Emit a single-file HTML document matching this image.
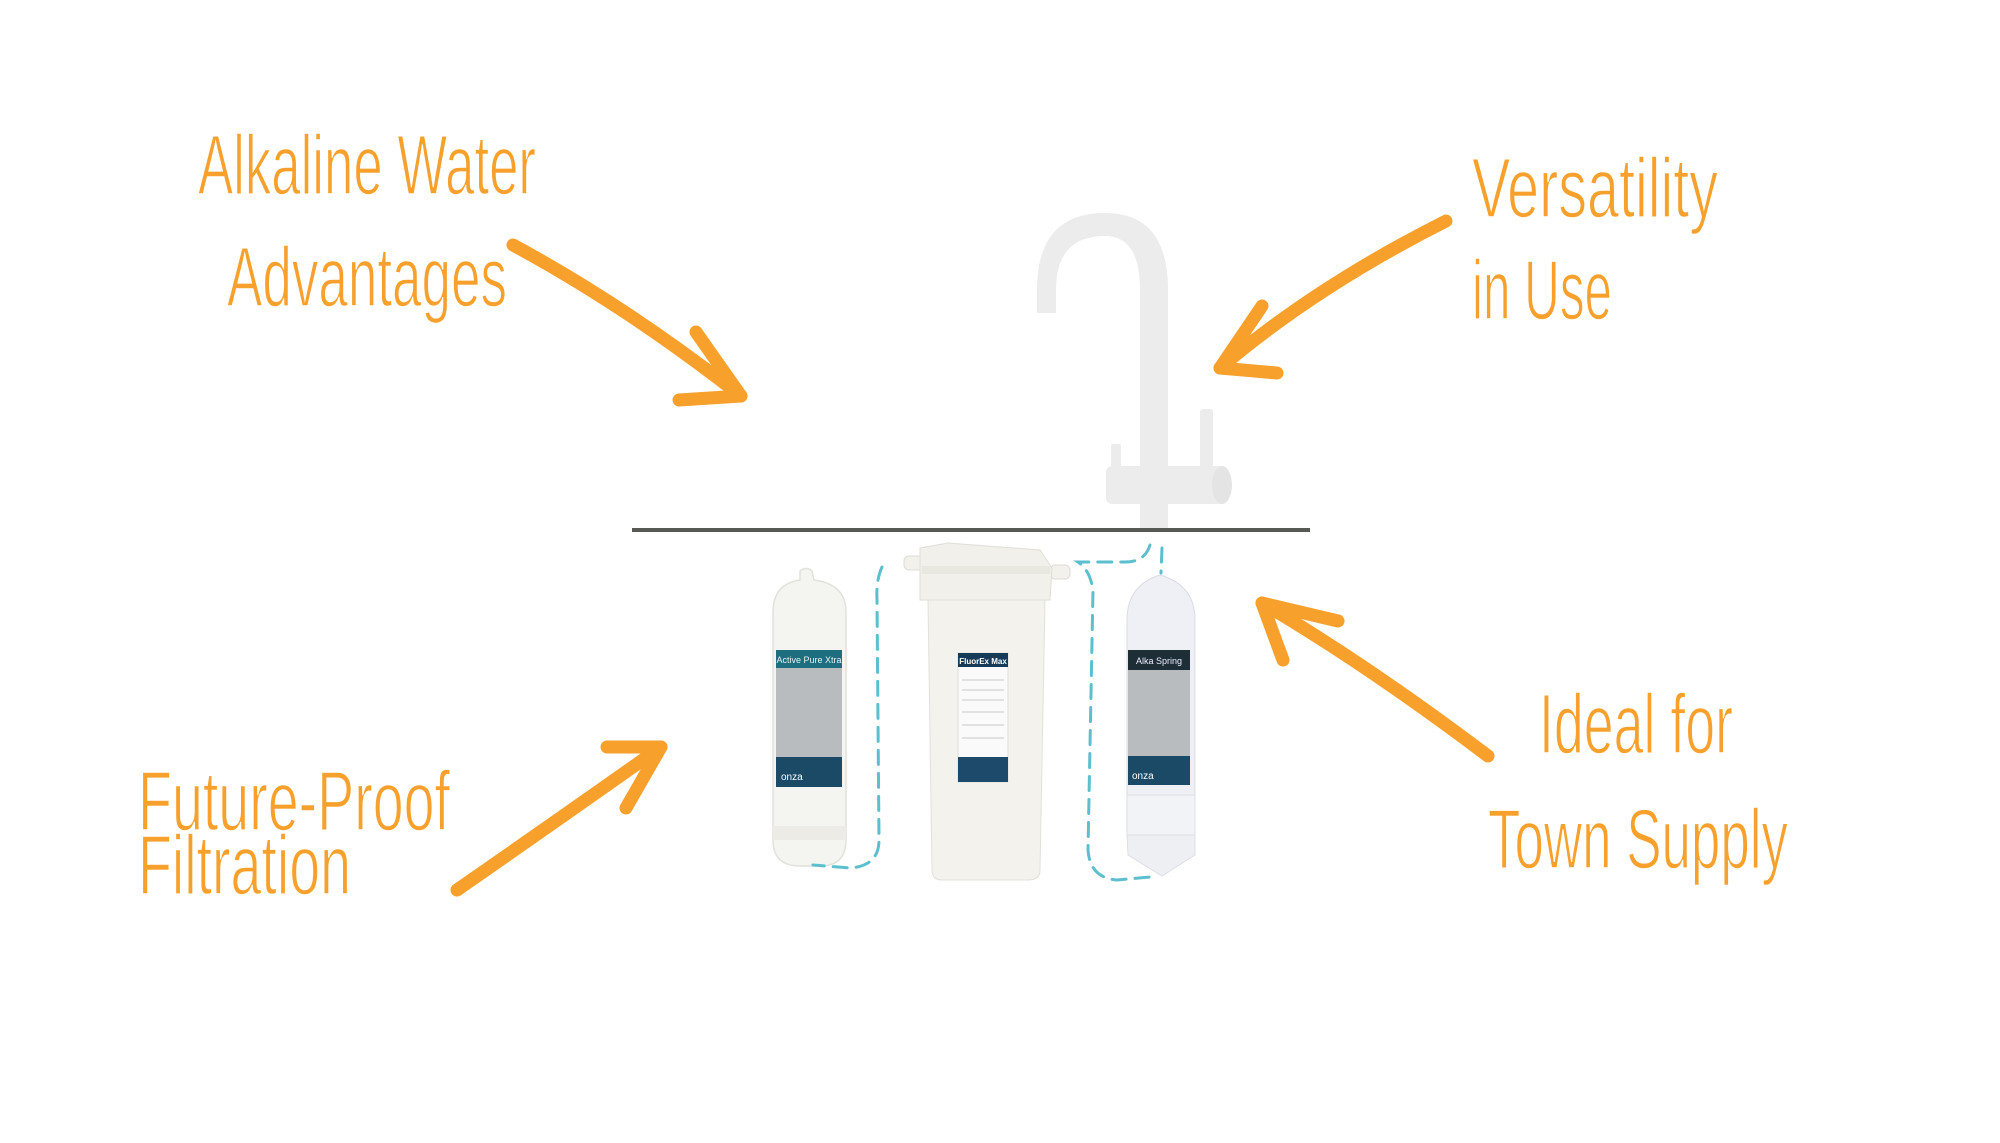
<!DOCTYPE html>
<html><head><meta charset="utf-8"><style>
html,body{margin:0;padding:0;background:#fff;}
svg{display:block;}
.t{font-family:"Liberation Sans Narrow","Liberation Sans",sans-serif;fill:#f7a02b;stroke:#fff;stroke-width:1.6px;}
</style></head><body>
<svg width="2000" height="1143" viewBox="0 0 2000 1143" xmlns="http://www.w3.org/2000/svg">
<rect width="2000" height="1143" fill="#fff"/>

<!-- Orange labels -->
<text class="t" x="198" y="194" font-size="84" textLength="338" lengthAdjust="spacingAndGlyphs">Alkaline Water</text>
<text class="t" x="227" y="306" font-size="84" textLength="280" lengthAdjust="spacingAndGlyphs">Advantages</text>
<text class="t" x="1472" y="217" font-size="84" textLength="246" lengthAdjust="spacingAndGlyphs">Versatility</text>
<text class="t" x="1472" y="319" font-size="84" textLength="140" lengthAdjust="spacingAndGlyphs">in Use</text>
<text class="t" x="138" y="830" font-size="84" textLength="312" lengthAdjust="spacingAndGlyphs">Future-Proof</text>
<text class="t" x="138" y="894" font-size="84" textLength="213" lengthAdjust="spacingAndGlyphs">Filtration</text>
<text class="t" x="1539" y="753" font-size="84" textLength="194" lengthAdjust="spacingAndGlyphs">Ideal for</text>
<text class="t" x="1488" y="868" font-size="84" textLength="300" lengthAdjust="spacingAndGlyphs">Town Supply</text>

<!-- Arrows -->
<g fill="none" stroke="#f7a02b" stroke-width="13" stroke-linecap="round" stroke-linejoin="round">
  <path d="M513 245 Q626 306 741 396"/>
  <path d="M696 332 L741 396 L679 400"/>
  <path d="M1446 221 Q1315 287 1220 368"/>
  <path d="M1262 306 L1220 368 L1277 373"/>
  <path d="M457 890 Q562 817 661 747"/>
  <path d="M607 747 L661 747 L626 808"/>
  <path d="M1488 756 Q1366 664 1262 603"/>
  <path d="M1338 621 L1262 603 L1283 660"/>
</g>

<!-- Faucet -->
<g fill="#ececec" stroke="none">
  <path d="M1037 313 L1037 290 Q1037 213 1105 213 Q1168 213 1168 290 L1168 527 L1140 527 L1140 290 Q1140 236 1105 236 Q1056 236 1056 290 L1056 313 Z"/>
  <rect x="1140" y="450" width="28" height="80"/>
  <rect x="1106" y="466" width="122" height="38" rx="6"/>
  <rect x="1200" y="409" width="13" height="64" rx="3"/>
  <rect x="1111" y="444" width="10" height="26" rx="2"/>
  <ellipse cx="1222" cy="485" rx="10" ry="19" fill="#e4e4e4"/>
</g>

<!-- Counter line -->
<rect x="632" y="528" width="678" height="4" fill="#555a55"/>

<!-- Left cartridge -->
<g>
  <path d="M800 571 Q806 566 812 571 L814 580 Q846 584 846 612 L846 840 Q846 866 820 866 L800 866 Q773 866 773 840 L773 612 Q773 584 800 580 Z" fill="#f4f4f1" stroke="#e2e2dc" stroke-width="1.5"/>
  <rect x="773" y="826" width="73" height="14" fill="#ecebe6"/>
  <rect x="776" y="650" width="66" height="137" fill="#b8bcbf"/>
  <rect x="776" y="650" width="66" height="18" fill="#1d6e7e"/>
  <rect x="776" y="757" width="66" height="30" fill="#1b4a66"/>
  <text x="809" y="663" font-family="Liberation Sans,sans-serif" font-size="9" fill="#e6f2f5" text-anchor="middle">Active Pure Xtra</text>
  <text x="781" y="780" font-family="Liberation Sans,sans-serif" font-size="10" fill="#fff">onza</text>
</g>

<!-- Middle housing -->
<g>
  <rect x="904" y="556" width="20" height="14" rx="5" fill="#f2f1ec" stroke="#dedcd4"/>
  <rect x="1050" y="565" width="20" height="14" rx="5" fill="#f2f1ec" stroke="#dedcd4"/>
  <path d="M920 548 L948 543 L1040 550 L1052 568 L1050 600 L920 600 Z" fill="#f1f0ea" stroke="#e0ded6"/>
  <rect x="922" y="566" width="128" height="8" fill="#e8e7e0"/>
  <path d="M928 600 L1045 600 L1040 870 Q1040 880 1028 880 L942 880 Q932 880 932 870 Z" fill="#f3f2ed" stroke="#e2e0d8"/>
  <rect x="958" y="653" width="50" height="129" fill="#fafafa" stroke="#dddddd"/>
  <rect x="958" y="653" width="50" height="14" fill="#173a58"/>
  <rect x="958" y="757" width="50" height="25" fill="#1d4a6a"/>
  <text x="983" y="664" font-family="Liberation Sans,sans-serif" font-size="8" font-weight="bold" fill="#fff" text-anchor="middle">FluorEx Max</text>
  <g stroke="#c8c8c8" stroke-width="1">
    <line x1="962" y1="680" x2="1004" y2="680"/><line x1="962" y1="690" x2="1004" y2="690"/>
    <line x1="962" y1="700" x2="1004" y2="700"/><line x1="962" y1="712" x2="1004" y2="712"/>
    <line x1="962" y1="725" x2="1004" y2="725"/><line x1="962" y1="738" x2="1004" y2="738"/>
  </g>
</g>

<!-- Right cartridge -->
<g>
  <path d="M1160 575 Q1195 585 1195 620 L1195 800 L1127 800 L1127 620 Q1127 585 1160 575 Z" fill="#eef0f5" stroke="#d9dce4"/>
  <rect x="1127" y="795" width="68" height="40" fill="#f2f3f6" stroke="#dcdfe6"/>
  <path d="M1127 835 L1195 835 L1195 855 L1162 876 L1128 855 Z" fill="#eeeff3" stroke="#dcdfe6"/>
  <rect x="1128" y="650" width="62" height="135" fill="#b8bcbf"/>
  <rect x="1128" y="650" width="62" height="20" fill="#1e2e36"/>
  <rect x="1128" y="756" width="62" height="29" fill="#1b4a66"/>
  <text x="1159" y="664" font-family="Liberation Sans,sans-serif" font-size="9" fill="#eef" text-anchor="middle">Alka Spring</text>
  <text x="1132" y="779" font-family="Liberation Sans,sans-serif" font-size="10" fill="#fff">onza</text>
</g>

<!-- Dashed tubing -->
<g fill="none" stroke="#5bbfce" stroke-width="3" stroke-dasharray="14 9" stroke-linecap="round">
  <path d="M882 567 Q876 580 877 600 L879 840 Q879 866 850 868 L813 865"/>
  <path d="M1162 548 L1161 573"/>
  <path d="M1150 545 Q1145 562 1125 562 L1078 562 Q1090 570 1093 590 L1088 850 Q1090 878 1117 880 L1150 877"/>
</g>
</svg>
</body></html>
